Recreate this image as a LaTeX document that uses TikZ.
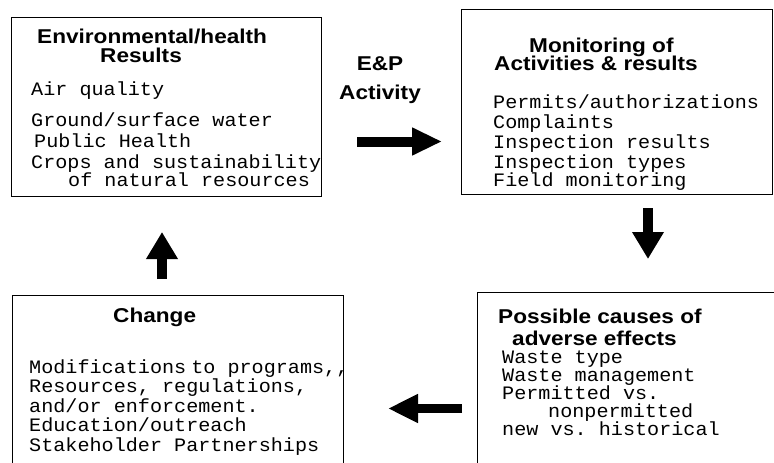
\documentclass[tikz,border=0pt]{standalone}
\usepackage{fontspec}
\setsansfont{Liberation Sans}[FakeStretch=1.13]
\setmonofont{Liberation Mono}[FakeStretch=1.06]
\usepackage{tikz}
\usetikzlibrary{arrows.meta}

\tikzset{
    stage/.style={draw, line width=1.4pt, anchor=north west, inner sep=0pt},
    % multi-line nodes sit on the baseline of their last line
    heading/.style={anchor=base west, align=left, inner sep=0pt,
        font=\fontsize{20}{19.5}\selectfont\sffamily\bfseries},
    items/.style={anchor=base west, align=left, inner sep=0pt,
        font=\fontsize{19}{21}\selectfont\ttfamily},
    flow/.style={line width=10pt, -{Triangle[length=28pt, width=29pt]}},
}

\begin{document}
\begin{tikzpicture}[x=1pt, y=-1pt]

            \useasboundingbox (0,0) rectangle (774,463);
            \clip (0,0) rectangle (774,463);

            % boxes
            \foreach \n/\x/\y/\w/\h in {env/11/17/310/179, mon/461/9/311/185,
                                        chg/12/295/331/200, cause/477/292/330/200}
                \node [stage, minimum width=\w pt, minimum height=\h pt] (\n) at (\x,\y) {};

            % headings
            \node [heading] (env-title) at (37,62.5)
                {Environmental/health\\\hspace*{63pt}Results};
            \node [heading] (mon-title) at (494,70.7)
                {\hspace*{35pt}Monitoring of\\[-1pt]Activities \& results};
            \node [heading] (cause-title) at (498,345)
                {Possible causes of\\[2.5pt]\hspace*{14pt}adverse effects};
            \node [heading] (chg-title) at (113,322) {Change};
            \node [heading, align=center, anchor=base] (ep) at (380,99)
                {E\&P\\[9.5pt]Activity};

            % box contents
            \node [items] (env-items) at (31,186)
                {Air quality\\[10pt]
                 Ground/surface water\\
                 \hspace*{3pt}Public Health\\
                 Crops and sustainability\\[-3pt]
                 \hspace*{37pt}of natural resources};
            \node [items, font=\fontsize{19}{20}\selectfont\ttfamily] (mon-items) at (493,186)
                {Permits/authorizations\\
                 Complaints\\
                 Inspection results\\
                 Inspection types\\[-2pt]
                 Field monitoring};
            \node [items, font=\fontsize{19}{17.8}\selectfont\ttfamily] (cause-items) at (502,435)
                {Waste type\\
                 Waste management\\
                 Permitted vs.\\
                 \hspace*{46pt}nonpermitted\\
                 new vs. historical};
            \node [items, font=\fontsize{19}{19.5}\selectfont\ttfamily] (chg-items) at (29,451)
                {Modifications\hspace{5pt}to programs,,\\
                 Resources, regulations,\\
                 and/or enforcement.\\
                 Education/outreach\\
                 Stakeholder Partnerships};

            % arrow ends
            \coordinate (right-from) at (357,141.5);
            \coordinate (right-to)   at (442,141.5);
            \coordinate (down-from)  at (648,208);
            \coordinate (down-to)    at (648,259);
            \coordinate (left-from)  at (462,408.5);
            \coordinate (left-to)    at (388,408.5);
            \coordinate (up-from)    at (162,279);
            \coordinate (up-to)      at (162,232);

            % arrows round the cycle
            \draw [flow, -{Triangle[length=30pt, width=26pt]}] (right-from) -- (right-to);
            \draw [flow, line width=10.5pt, -{Triangle[length=27pt, width=30pt]}] (down-from) -- (down-to);
            \draw [flow, line width=8.5pt, -{Triangle[length=30pt, width=27pt]}] (left-from) -- (left-to);
            \draw [flow, -{Triangle[length=27pt, width=30pt]}] (up-from) -- (up-to);

\end{tikzpicture}
\end{document}
